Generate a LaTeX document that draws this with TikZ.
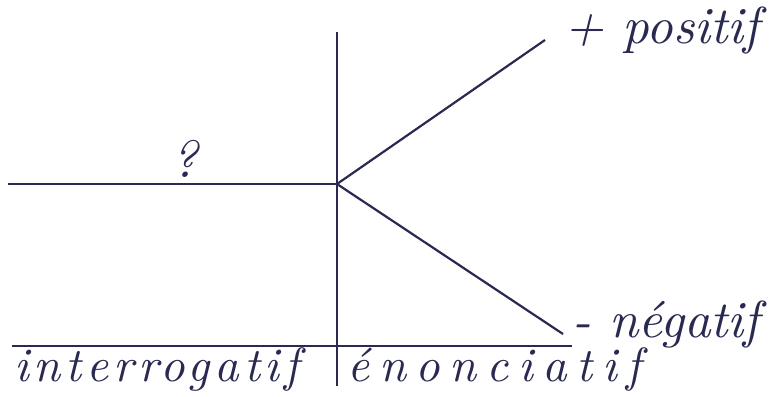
\documentclass[tikz,border=0pt]{standalone}
\usepackage{fontspec}
\setmainfont{lmroman10-regular.otf}[ItalicFont=lmroman10-italic.otf]
\usepackage{tikz}
\usetikzlibrary{positioning}
\definecolor{ink}{rgb}{0.16,0.16,0.32}
\begin{document}
\begin{tikzpicture}[
        x=0.5pt, y=-0.5pt,
        axis/.style={draw=ink, line width=1pt},
        branch/.style={draw=ink, line width=1.1pt},
        label/.style={text=ink, font=\fontsize{26}{30}\selectfont\itshape, inner sep=1pt},
        sublabel/.style={label, font=\fontsize{24}{28}\selectfont\itshape}
    ]
        \useasboundingbox (0,0) rectangle (781,396);
        % Points
        \coordinate (vtop) at (337,32);
        \coordinate (vbot) at (337,386);
        \coordinate (centre) at (337,184);
        \coordinate (left) at (8,184);
        \coordinate (pos) at (545,40);
        \coordinate (neg) at (563,334);
        \coordinate (bleft) at (12,346);
        \coordinate (bright) at (572,346);

        % Labels
        \node (qmark) [label, anchor=south] at (185,180) {?};
        \node (positif) [label, anchor=west] at (562,30) {+ positif};
        \node (negatif) [label, anchor=west] at (570,324) {- négatif};
        \node (interro) [sublabel, anchor=base west] at (12,381) {\addfontfeature{LetterSpace=10}interrogatif};
        \node (enonc) [sublabel, anchor=base west] at (345,381) {\addfontfeature{LetterSpace=20}énonciatif};

        % Lines
        \draw [axis] (vtop) -- (vbot);
        \draw [axis] (left) -- (centre);
        \draw [branch] (centre) -- (pos);
        \draw [branch] (centre) -- (neg);
        \draw [axis] (bleft) -- (bright);
    \end{tikzpicture}
\end{document}
